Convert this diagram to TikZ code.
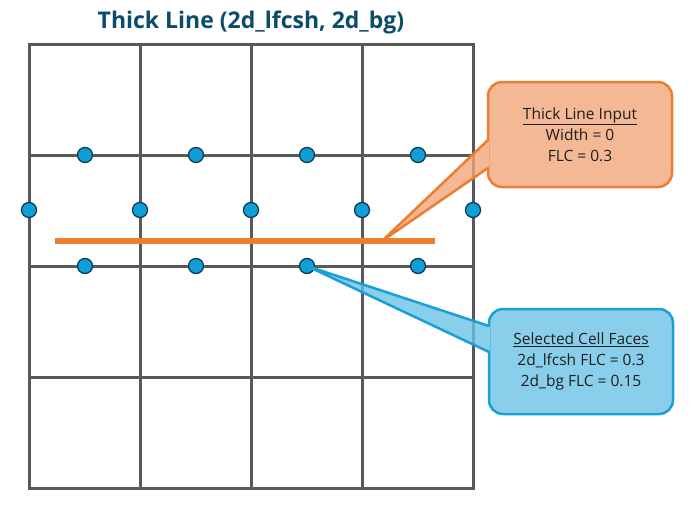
\documentclass[tikz,border=0pt]{standalone}
\usepackage{fontspec}
\setmainfont{Open Sans}
\usetikzlibrary{positioning,calc}
\definecolor{gridgray}{RGB}{89,89,89}
\definecolor{dotblue}{RGB}{16,158,214}
\definecolor{dotedge}{RGB}{12,62,92}
\definecolor{lineorange}{RGB}{237,125,49}
\definecolor{inputfill}{RGB}{244,184,148}
\definecolor{inputtip}{RGB}{241,166,121}
\definecolor{facefill}{RGB}{137,206,235}
\definecolor{facetip}{RGB}{107,194,230}
\definecolor{faceedge}{RGB}{24,160,215}
\definecolor{titleblue}{RGB}{12,76,107}
\tikzset{
  face/.style={circle, draw=dotedge, fill=dotblue, line width=1.3pt, inner sep=0pt, minimum size=15pt},
  notebox/.style={rounded corners=14pt, line width=2.5pt, outer sep=0pt, minimum width=184pt, minimum height=105pt,
    align=center, text=black!88, font=\fontsize{15.5}{21}\selectfont}
}
\begin{document}
\begin{tikzpicture}[x=1pt,y=-1pt]
	\useasboundingbox (0,0) rectangle (698,509);
	\node[font=\bfseries\fontsize{23}{26}\selectfont, text=titleblue] (title) at (251,22) {Thick Line (2d\_lfcsh, 2d\_bg)};
	% grid of cells
	\foreach \k in {0,...,4} {
		\draw[gridgray, line width=3pt, line cap=rect] (29+111*\k,44) -- (29+111*\k,488);
		\draw[gridgray, line width=3pt, line cap=rect] (29,44+111*\k) -- (473,44+111*\k);
	}
	% cell faces
	\foreach \i in {0,...,3} {
		\node[face] (top-\i) at (85+111*\i,155) {};
		\node[face] (bot-\i) at (85+111*\i,266) {};
	}
	\foreach \i in {0,...,4}
		\node[face] (mid-\i) at (29+111*\i,210) {};
	% thick line
	\coordinate (lstart) at (55,241);
	\coordinate (lend) at (435,241);
	\draw[lineorange, line width=6.5pt] (lstart) -- (lend);
	\coordinate (hit) at ($(lstart)!0.8605!(lend)$);
	% input callout
	\node[notebox, fill=inputfill, draw=lineorange] (input) at (580,134.5) {\underline{Thick Line Input}\\Width = 0\\FLC = 0.3};
	\coordinate (inA) at ($(input.north west)+(0,58)$);
	\coordinate (inB) at ($(input.north west)+(0,86)$);
	\fill[inputtip, fill opacity=0.8] (inA) -- (hit) -- (inB) -- cycle;
	\fill[inputfill] ($(inA)+(-1.3,1.3)$) rectangle ($(inB)+(1.3,-1.3)$);
	\draw[lineorange, line width=2.5pt] (inA) -- (hit) -- (inB);
	% faces callout
	\node[notebox, fill=facefill, draw=faceedge] (faces) at (581,361.5) {\underline{Selected Cell Faces}\\2d\_lfcsh FLC = 0.3\\2d\_bg FLC = 0.15};
	\coordinate (fcA) at ($(faces.north west)+(0,17)$);
	\coordinate (fcB) at ($(faces.north west)+(0,43)$);
	\fill[facetip, fill opacity=0.8] (fcA) -- (bot-2.center) -- (fcB) -- cycle;
	\fill[facefill] ($(fcA)+(-1.3,1.3)$) rectangle ($(fcB)+(1.3,-1.3)$);
	\draw[faceedge, line width=2.5pt] (fcA) -- (bot-2.center) -- (fcB);
\end{tikzpicture}
\end{document}
